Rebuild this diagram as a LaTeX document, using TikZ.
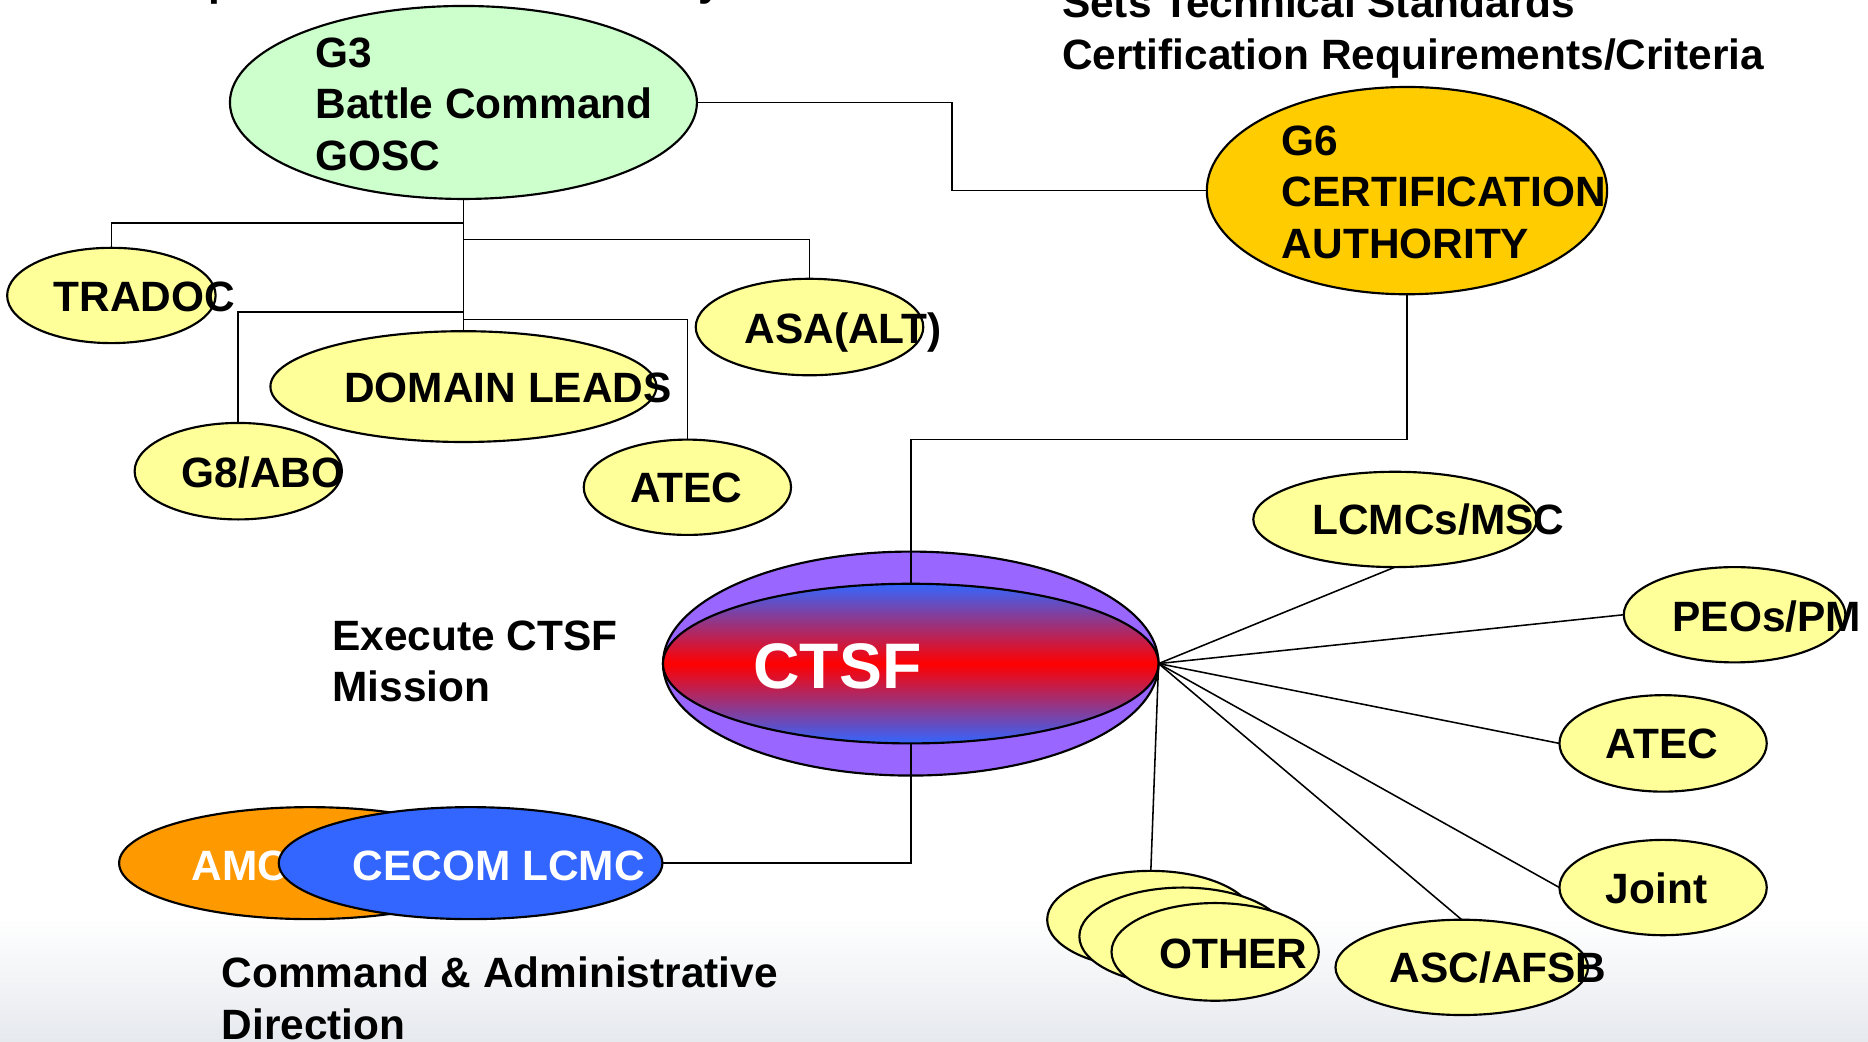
\documentclass[tikz,border=0pt]{standalone}
\usepackage{fontspec}
\setmainfont{Liberation Sans}
\usetikzlibrary{shapes.geometric}
\definecolor{gthree}{HTML}{CCFFCC}
\definecolor{gsix}{HTML}{FFCC00}
\definecolor{lyel}{HTML}{FFFF99}
\definecolor{purp}{HTML}{9966FF}
\definecolor{cblue}{HTML}{3366FF}
\definecolor{amco}{HTML}{FF9900}
\definecolor{haze}{HTML}{E6E9EE}
\begin{document}
\begin{tikzpicture}[x=0.5pt,y=-0.5pt,
  ell/.style={ellipse, draw=black, line width=0.9pt, inner sep=0pt, outer sep=0pt},
  yel/.style={ell, fill=lyel},
  lbl/.style={anchor=base west, inner sep=0pt, outer sep=0pt, font=\fontsize{17.8}{21.6}\selectfont\bfseries},
  wlbl/.style={lbl, text=white},
  conn/.style={draw=black, line width=0.65pt}]
\useasboundingbox (0,0) rectangle (1568,874);
\clip (0,0) rectangle (1568,874);
\shade[top color=white, bottom color=haze] (0,770) rectangle (1568,874);

% free labels
\node[lbl] (toplbl) at (147,-3.5) {Operational Lead Authority};
\node[lbl] (stdlbl) at (891.5,15) {\vtop{\hbox{Sets Technical Standards}\hbox{Certification Requirements/Criteria}}};
\node[lbl] (exelbl) at (279,545.7) {\vtop{\hbox{Execute CTSF}\hbox{Mission}}};
\node[lbl] (cmdlbl) at (186,829) {\vtop{\hbox{Command \& Administrative}\hbox{Direction}}};

% G3 and G6
\node[ell, fill=gthree, minimum width=196pt, minimum height=81pt] (g3) at (389,86) {};
\node[lbl] (g3t) at (265,56.5) {\vtop{\hbox{G3}\hbox{Battle Command}\hbox{GOSC}}};
\node[ell, fill=gsix, minimum width=168pt, minimum height=87pt] (g6) at (1181,160) {};
\node[lbl] (g6t) at (1076,130.5) {\vtop{\hbox{G6}\hbox{CERTIFICATION}\hbox{AUTHORITY}}};
\coordinate (j1) at (799,160);
\draw[conn] (g3.east) -| (j1) -- (g6.west);

% G3 subordinates
\node[yel, minimum width=87.5pt, minimum height=40pt] (trad) at (93.5,248) {};
\node[yel, minimum width=95.5pt, minimum height=40.5pt] (asa) at (679.5,274.5) {};
\node[yel, minimum width=162pt, minimum height=46.5pt] (dom) at (389,324.5) {};
\node[yel, minimum width=87pt, minimum height=40.5pt] (g8) at (200,395.5) {};
\node[yel, minimum width=87pt, minimum height=40pt] (atec1) at (577,409) {};
\coordinate (b1) at (389,187);
\coordinate (b2) at (389,201);
\coordinate (b3) at (389,262);
\coordinate (b4) at (389,268);
\draw[conn] (g3.south) -- (dom.north);
\draw[conn] (b1) -| (trad.north);
\draw[conn] (b2) -| (asa.north);
\draw[conn] (b3) -| (g8.north);
\draw[conn] (b4) -| (atec1.north);
\node[lbl] (tradt) at (45,261.7) {TRADOC};
\node[lbl] (asat) at (625,288) {ASA(ALT)};
\node[lbl] (domt) at (289,337.5) {DOMAIN LEADS};
\node[lbl] (g8t) at (152.5,409) {G8/ABO};
\node[lbl] (atec1t) at (529,421.5) {ATEC};

% AMC / CECOM
\node[ell, fill=amco, minimum width=160pt, minimum height=47pt] (amc) at (260,724.5) {};
\node[wlbl] (amct) at (161,739) {AMC};
\node[ell, fill=cblue, minimum width=161pt, minimum height=47pt] (cecom) at (395,724.5) {};
\node[wlbl] (cecomt) at (296,739) {CECOM LCMC};

% CTSF
\node[ell, fill=purp, minimum width=208pt, minimum height=94pt] (ctsfo) at (764.5,557) {};
\coordinate (j2) at (764.5,369);
\draw[conn] (g6.south) |- (j2) -- (ctsfo.center);
\draw[conn] (cecom.east) -| (ctsfo.center);
\node[ell, top color=cblue, bottom color=cblue, middle color=red, minimum width=208pt, minimum height=67pt] (ctsfi) at (764.5,557) {};
\node[anchor=base west, inner sep=0pt, text=white, font=\fontsize{27}{32}\selectfont\bfseries] (ctsft) at (632,577.5) {CTSF};

% right side
\node[yel, minimum width=119pt, minimum height=40pt] (lcmc) at (1171,436) {};
\node[yel, minimum width=93pt, minimum height=40pt] (peo) at (1456,516) {};
\node[yel, minimum width=87pt, minimum height=40.5pt] (atec2) at (1396,624) {};
\node[yel, minimum width=87pt, minimum height=40pt] (joint) at (1396,745) {};
\node[yel, minimum width=106pt, minimum height=40pt] (asc) at (1227,812) {};
\node[yel, minimum width=87pt, minimum height=41pt] (oth1) at (966,772) {};
\node[yel, minimum width=87pt, minimum height=41pt] (oth2) at (993,786) {};
\node[yel, minimum width=87pt, minimum height=41pt] (oth3) at (1020,799) {};
\draw[conn] (ctsfo.east) -- (lcmc.south);
\draw[conn] (ctsfo.east) -- (peo.west);
\draw[conn] (ctsfo.east) -- (atec2.west);
\draw[conn] (ctsfo.east) -- (joint.west);
\draw[conn] (ctsfo.east) -- (asc.north);
\draw[conn] (ctsfo.east) -- (oth1.north);
\node[lbl] (lcmct) at (1101.5,449) {LCMCs/MSC};
\node[lbl] (peot) at (1404,530) {PEOs/PM};
\node[lbl] (atec2t) at (1348,637) {ATEC};
\node[lbl] (jointt) at (1348,758) {Joint};
\node[lbl] (asct) at (1166.5,825) {ASC/AFSB};
\node[lbl] (otht) at (973,812.7) {OTHER};
\end{tikzpicture}
\end{document}
